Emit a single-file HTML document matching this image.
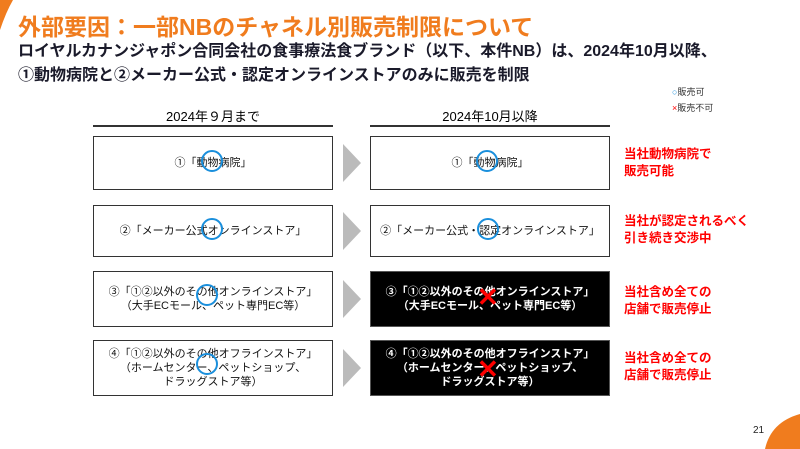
<!DOCTYPE html>
<html style="overflow:hidden;width:800px;height:449px"><head><meta charset="utf-8"><style>
body{margin:0;width:800px;height:449px;background:#fff;position:relative;overflow:hidden;font-family:"Liberation Sans","Noto Sans CJK JP",sans-serif}
.a{position:absolute}
.box{position:absolute;border:1.5px solid #333;box-sizing:border-box;display:flex;align-items:center;justify-content:center;text-align:center;font-size:11px;line-height:14px;color:#111}
.blk{background:#000;color:#fff;font-weight:bold;border-color:#555}
.red{position:absolute;color:#f00;font-weight:bold;font-size:12.5px;line-height:17px;left:624px}
.chev{position:absolute;left:343px;width:18px;height:38px;background:#bbb;clip-path:polygon(0 0,100% 50%,0 100%,0 60%,0 40%)}
.circ{position:absolute;width:22px;height:22px;border:2.5px solid #1a8fdc;border-radius:50%;box-sizing:border-box}
.x{position:absolute;color:#f00;font-size:26px;font-weight:bold;line-height:26px}
</style></head><body>
<svg class="a" style="left:0;top:0" width="14" height="30"><path d="M0 0 H13 Q6 12 0 30 Z" fill="#f07c1e"/></svg>
<svg class="a" style="left:765px;top:414px" width="35" height="35"><path d="M35 0 Q6 8 0 35 H35 Z" fill="#f07c1e"/></svg>
<div class="a" style="left:18px;top:8px;font-size:23px;font-weight:bold;color:#f07c1e">外部要因：一部NBのチャネル別販売制限について</div>
<div class="a" style="left:18px;top:40px;font-size:16px;font-weight:bold;color:#1a1a2a;line-height:24px">ロイヤルカナンジャポン合同会社の食事療法食ブランド（以下、本件NB）は、2024年10月以降、<br>①動物病院と②メーカー公式・認定オンラインストアのみに販売を制限</div>
<div class="a" style="left:672px;top:84px;font-size:9px;color:#333;line-height:16px"><span style="color:#1a8fdc">○</span>販売可<br><span style="color:#f00">×</span>販売不可</div>
<div class="a" style="left:93px;top:106px;width:240px;text-align:center;font-size:13px">2024年９月まで</div>
<div class="a" style="left:370px;top:106px;width:240px;text-align:center;font-size:13px">2024年10月以降</div>
<div class="a" style="left:93px;top:125px;width:240px;height:2px;background:#333"></div>
<div class="a" style="left:370px;top:125px;width:240px;height:2px;background:#333"></div>

<div class="box" style="left:93px;top:136px;width:240px;height:54px">①「動物病院」</div>
<div class="box" style="left:370px;top:136px;width:240px;height:54px">①「動物病院」</div>
<div class="box" style="left:93px;top:205px;width:240px;height:52px">②「メーカー公式オンラインストア」</div>
<div class="box" style="left:370px;top:205px;width:240px;height:52px">②「メーカー公式・認定オンラインストア」</div>
<div class="box" style="left:93px;top:271px;width:240px;height:56px">③「①②以外のその他オンラインストア」<br>（大手ECモール、ペット専門EC等）</div>
<div class="box blk" style="left:370px;top:271px;width:240px;height:56px">③「①②以外のその他オンラインストア」<br>（大手ECモール、ペット専門EC等）</div>
<div class="box" style="left:93px;top:340px;width:240px;height:56px">④「①②以外のその他オフラインストア」<br>（ホームセンター、ペットショップ、<br>ドラッグストア等）</div>
<div class="box blk" style="left:370px;top:340px;width:240px;height:56px">④「①②以外のその他オフラインストア」<br>（ホームセンター、ペットショップ、<br>ドラッグストア等）</div>

<div class="chev" style="top:144px"></div>
<div class="chev" style="top:212px"></div>
<div class="chev" style="top:280px"></div>
<div class="chev" style="top:349px"></div>

<div class="circ" style="left:201px;top:150px"></div>
<div class="circ" style="left:476px;top:150px"></div>
<div class="circ" style="left:201px;top:218px"></div>
<div class="circ" style="left:477px;top:218px"></div>
<div class="circ" style="left:196px;top:284px"></div>
<div class="circ" style="left:196px;top:353px"></div>
<div class="x" style="left:477px;top:284px">✕</div>
<div class="x" style="left:477px;top:356px">✕</div>

<div class="red" style="top:146px">当社動物病院で<br>販売可能</div>
<div class="red" style="top:213px">当社が認定されるべく<br>引き続き交渉中</div>
<div class="red" style="top:284px">当社含め全ての<br>店舗で販売停止</div>
<div class="red" style="top:350px">当社含め全ての<br>店舗で販売停止</div>
<div class="a" style="left:753px;top:425px;font-size:10px;color:#222">21</div>
</body></html>
